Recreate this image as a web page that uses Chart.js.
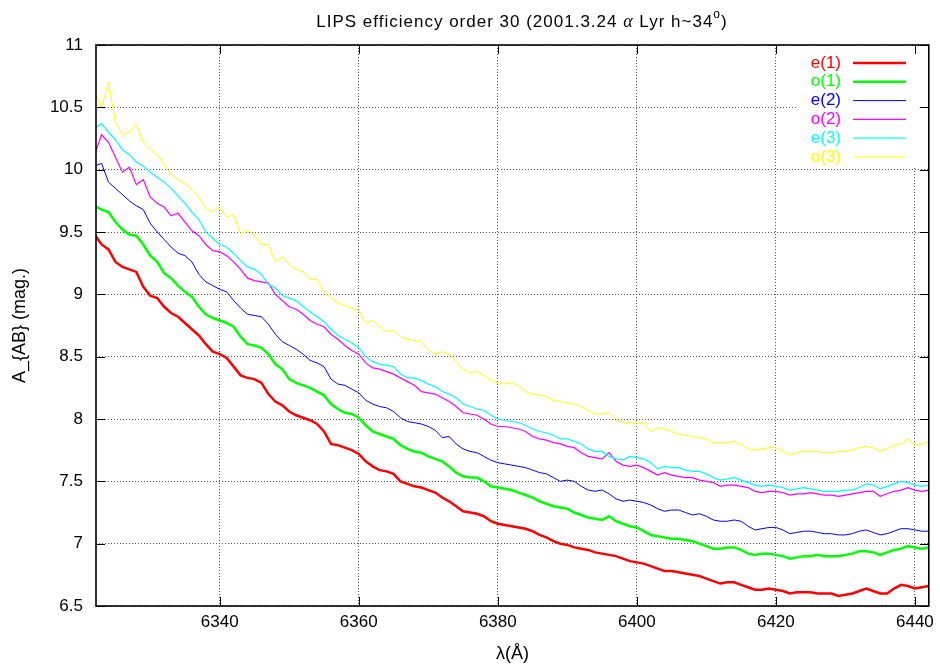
<!DOCTYPE html>
<html>
<head>
<meta charset="utf-8">
<title>LIPS efficiency order 30</title>
<script src="https://cdn.jsdelivr.net/npm/chart.js@4.4.1/dist/chart.umd.min.js"></script>
<style>
  html, body { margin: 0; padding: 0; background: #fff; }
  #wrap { width: 940px; height: 667px; }
</style>
</head>
<body>
<div id="wrap"><canvas id="myChart" width="940" height="667"></canvas></div>
<script>
// wavelength (A), one sample per angstrom
var wavelengths = [
  6322, 6323, 6324, 6325, 6326, 6327, 6328, 6329, 6330, 6331,
  6332, 6333, 6334, 6335, 6336, 6337, 6338, 6339, 6340, 6341,
  6342, 6343, 6344, 6345, 6346, 6347, 6348, 6349, 6350, 6351,
  6352, 6353, 6354, 6355, 6356, 6357, 6358, 6359, 6360, 6361,
  6362, 6363, 6364, 6365, 6366, 6367, 6368, 6369, 6370, 6371,
  6372, 6373, 6374, 6375, 6376, 6377, 6378, 6379, 6380, 6381,
  6382, 6383, 6384, 6385, 6386, 6387, 6388, 6389, 6390, 6391,
  6392, 6393, 6394, 6395, 6396, 6397, 6398, 6399, 6400, 6401,
  6402, 6403, 6404, 6405, 6406, 6407, 6408, 6409, 6410, 6411,
  6412, 6413, 6414, 6415, 6416, 6417, 6418, 6419, 6420, 6421,
  6422, 6423, 6424, 6425, 6426, 6427, 6428, 6429, 6430, 6431,
  6432, 6433, 6434, 6435, 6436, 6437, 6438, 6439, 6440, 6441,
  6442
];

var e1 = [
  9.48, 9.40, 9.36, 9.26, 9.22, 9.20, 9.18, 9.06, 8.99, 8.97,
  8.90, 8.85, 8.82, 8.77, 8.72, 8.67, 8.60, 8.54, 8.52, 8.49,
  8.42, 8.35, 8.33, 8.32, 8.29, 8.20, 8.14, 8.11, 8.06, 8.03,
  8.01, 7.99, 7.96, 7.90, 7.80, 7.79, 7.77, 7.75, 7.72, 7.66,
  7.62, 7.59, 7.58, 7.56, 7.50, 7.48, 7.46, 7.45, 7.43, 7.41,
  7.37, 7.34, 7.30, 7.26, 7.25, 7.24, 7.22, 7.18, 7.16, 7.15,
  7.14, 7.13, 7.12, 7.10, 7.07, 7.05, 7.02, 7.00, 6.99, 6.97,
  6.96, 6.95, 6.93, 6.92, 6.91, 6.90, 6.88, 6.86, 6.85, 6.84,
  6.82, 6.80, 6.78, 6.78, 6.77, 6.76, 6.75, 6.74, 6.72, 6.70,
  6.68, 6.69, 6.69, 6.67, 6.65, 6.63, 6.63, 6.64, 6.63, 6.62,
  6.60, 6.61, 6.61, 6.61, 6.60, 6.60, 6.60, 6.58, 6.59, 6.60,
  6.62, 6.64, 6.62, 6.60, 6.60, 6.64, 6.67, 6.66, 6.64, 6.65,
  6.66
];

var o1 = [
  9.71, 9.68, 9.66, 9.58, 9.52, 9.48, 9.47, 9.40, 9.31, 9.26,
  9.17, 9.13, 9.07, 9.02, 8.98, 8.90, 8.84, 8.81, 8.79, 8.77,
  8.74, 8.66, 8.60, 8.59, 8.57, 8.52, 8.44, 8.40, 8.32, 8.29,
  8.27, 8.25, 8.22, 8.19, 8.12, 8.08, 8.05, 8.04, 8.01, 7.95,
  7.90, 7.88, 7.86, 7.84, 7.79, 7.76, 7.74, 7.73, 7.70, 7.68,
  7.66, 7.62, 7.57, 7.54, 7.53, 7.53, 7.50, 7.46, 7.45, 7.44,
  7.43, 7.41, 7.39, 7.37, 7.34, 7.32, 7.30, 7.29, 7.28, 7.25,
  7.23, 7.21, 7.20, 7.19, 7.22, 7.18, 7.16, 7.14, 7.13, 7.10,
  7.07, 7.06, 7.05, 7.04, 7.04, 7.03, 7.02, 7.00, 6.98, 6.96,
  6.96, 6.97, 6.97, 6.95, 6.92, 6.91, 6.92, 6.92, 6.91, 6.90,
  6.88, 6.89, 6.90, 6.90, 6.91, 6.90, 6.90, 6.90, 6.91, 6.92,
  6.94, 6.94, 6.93, 6.91, 6.93, 6.95, 6.96, 6.98, 6.97, 6.96,
  6.97
];

var e2 = [
  10.03, 10.05, 9.90, 9.85, 9.80, 9.75, 9.71, 9.68, 9.57, 9.50,
  9.44, 9.38, 9.33, 9.31, 9.26, 9.16, 9.10, 9.07, 9.04, 9.02,
  8.95, 8.89, 8.84, 8.83, 8.82, 8.76, 8.68, 8.62, 8.59, 8.56,
  8.52, 8.47, 8.45, 8.42, 8.32, 8.28, 8.27, 8.24, 8.21, 8.15,
  8.12, 8.10, 8.09, 8.06, 8.01, 7.98, 7.97, 7.96, 7.94, 7.91,
  7.85, 7.86, 7.80, 7.76, 7.74, 7.73, 7.70, 7.67, 7.65, 7.64,
  7.63, 7.62, 7.61, 7.59, 7.57, 7.56, 7.53, 7.50, 7.51, 7.50,
  7.46, 7.43, 7.42, 7.43, 7.40, 7.36, 7.34, 7.35, 7.34, 7.33,
  7.31, 7.28, 7.26, 7.27, 7.27, 7.25, 7.23, 7.24, 7.22, 7.19,
  7.18, 7.18, 7.19, 7.18, 7.14, 7.11, 7.12, 7.13, 7.13, 7.11,
  7.08, 7.09, 7.10, 7.10, 7.09, 7.08, 7.08, 7.07, 7.07, 7.08,
  7.10, 7.11, 7.09, 7.07, 7.08, 7.10, 7.12, 7.12, 7.11, 7.10,
  7.10
];

var o2 = [
  10.12, 10.28, 10.22, 10.10, 9.98, 10.02, 9.88, 9.92, 9.78, 9.73,
  9.70, 9.63, 9.65, 9.58, 9.51, 9.47, 9.40, 9.35, 9.34, 9.31,
  9.26, 9.20, 9.13, 9.11, 9.10, 9.09, 9.00, 8.95, 8.90, 8.88,
  8.84, 8.79, 8.76, 8.74, 8.68, 8.64, 8.59, 8.55, 8.52, 8.45,
  8.41, 8.40, 8.38, 8.36, 8.33, 8.30, 8.27, 8.22, 8.21, 8.20,
  8.17, 8.14, 8.10, 8.05, 8.04, 8.03, 8.00, 7.96, 7.94, 7.94,
  7.93, 7.92, 7.90, 7.86, 7.84, 7.83, 7.81, 7.80, 7.78, 7.77,
  7.73, 7.70, 7.69, 7.68, 7.73, 7.66, 7.63, 7.62, 7.63, 7.61,
  7.58, 7.55, 7.57, 7.55, 7.54, 7.53, 7.53, 7.51, 7.50, 7.49,
  7.46, 7.47, 7.47, 7.46, 7.45, 7.42, 7.41, 7.42, 7.42, 7.41,
  7.39, 7.40, 7.40, 7.41, 7.40, 7.39, 7.39, 7.38, 7.39, 7.40,
  7.41, 7.42, 7.42, 7.38, 7.40, 7.42, 7.43, 7.45, 7.43, 7.42,
  7.43
];

var e3 = [
  10.33, 10.37, 10.30, 10.24, 10.16, 10.12, 10.06, 10.03, 9.98, 9.94,
  9.90, 9.85, 9.79, 9.73, 9.66, 9.60, 9.50, 9.45, 9.40, 9.38,
  9.33, 9.27, 9.22, 9.20, 9.16, 9.08, 9.05, 8.99, 8.97, 8.95,
  8.90, 8.86, 8.82, 8.78, 8.72, 8.67, 8.64, 8.61, 8.57, 8.50,
  8.46, 8.44, 8.43, 8.42, 8.36, 8.33, 8.33, 8.31, 8.28, 8.26,
  8.22, 8.20, 8.17, 8.12, 8.10, 8.08, 8.07, 8.03, 8.00, 7.99,
  7.98, 7.97, 7.95, 7.92, 7.90, 7.89, 7.87, 7.84, 7.84, 7.82,
  7.80, 7.76, 7.74, 7.74, 7.70, 7.68, 7.67, 7.70, 7.69, 7.68,
  7.65, 7.60, 7.62, 7.61, 7.61, 7.59, 7.58, 7.58, 7.56, 7.53,
  7.51, 7.52, 7.53, 7.51, 7.49, 7.47, 7.46, 7.47, 7.46, 7.45,
  7.43, 7.44, 7.45, 7.44, 7.43, 7.42, 7.42, 7.42, 7.43, 7.43,
  7.45, 7.48, 7.47, 7.44, 7.46, 7.48, 7.50, 7.49, 7.47, 7.46,
  7.47
];

var o3 = [
  10.62, 10.50, 10.70, 10.38, 10.28, 10.30, 10.36, 10.22, 10.16, 10.12,
  10.04, 9.96, 9.92, 9.89, 9.84, 9.78, 9.69, 9.66, 9.70, 9.62,
  9.64, 9.48, 9.52, 9.47, 9.40, 9.40, 9.26, 9.30, 9.24, 9.20,
  9.18, 9.12, 9.12, 9.02, 8.97, 8.93, 8.91, 8.89, 8.87, 8.77,
  8.79, 8.74, 8.70, 8.71, 8.66, 8.64, 8.63, 8.62, 8.55, 8.52,
  8.54, 8.52, 8.46, 8.40, 8.37, 8.38, 8.35, 8.31, 8.29, 8.28,
  8.29, 8.27, 8.22, 8.20, 8.19, 8.18, 8.15, 8.14, 8.13, 8.12,
  8.10, 8.07, 8.04, 8.04, 8.05, 8.00, 7.97, 7.97, 7.96, 7.97,
  7.90, 7.93, 7.92, 7.90, 7.88, 7.87, 7.86, 7.85, 7.84, 7.81,
  7.81, 7.81, 7.82, 7.80, 7.76, 7.75, 7.76, 7.77, 7.77, 7.74,
  7.71, 7.73, 7.74, 7.74, 7.74, 7.73, 7.73, 7.74, 7.74, 7.75,
  7.77, 7.78, 7.77, 7.74, 7.76, 7.79, 7.80, 7.84, 7.79, 7.80,
  7.82
];

var seriesNames = ["e(1)", "o(1)", "e(2)", "o(2)", "e(3)", "o(3)"];
var seriesColors = ["#ff0000", "#00ff00", "#0000ff", "#ff00ff", "#00ffff", "#ffff00"];
var seriesWidths = [2.5, 2.5, 1, 1.2, 1.2, 1];
var xTicks = [6340, 6360, 6380, 6400, 6420, 6440];
var yTicks = [6.5, 7, 7.5, 8, 8.5, 9, 9.5, 10, 10.5, 11];

var FONT = '"Liberation Sans", Arial, Helvetica, sans-serif';

function toPoints(ys) {
  var pts = [];
  for (var i = 0; i < ys.length; i++) {
    pts.push({ x: wavelengths[i], y: ys[i] });
  }
  return pts;
}

var allSeries = [e1, o1, e2, o2, e3, o3];
var datasets = [];
for (var i = 0; i < allSeries.length; i++) {
  datasets.push({
    label: seriesNames[i],
    data: toPoints(allSeries[i]),
    borderColor: seriesColors[i],
    backgroundColor: seriesColors[i],
    borderWidth: seriesWidths[i],
    pointRadius: 0,
    tension: 0,
    fill: false,
    order: allSeries.length - i, // gnuplot draws e(1) first, o(3) last
  });
}

// frame, inward tick marks, key box and the title
var gnuplotLook = {
  id: "gnuplotLook",
  afterDatasetsDraw: function (chart) {
    var ctx = chart.ctx;
    var a = chart.chartArea;
    var xs = chart.scales.x;
    var ys = chart.scales.y;
    ctx.save();

    // key (opaque box hides grid behind it)
    ctx.fillStyle = "#fff";
    ctx.fillRect(797, a.top + 1, 124, 121);
    ctx.font = "17px " + FONT;
    ctx.textAlign = "right";
    ctx.textBaseline = "middle";
    for (var i = 0; i < chart.data.datasets.length; i++) {
      var ds = chart.data.datasets[i];
      var ry = 63 + i * 18.8;
      ctx.fillStyle = ds.borderColor;
      ctx.fillText(ds.label, 841, ry);
      ctx.strokeStyle = ds.borderColor;
      ctx.lineWidth = ds.borderWidth;
      ctx.beginPath();
      ctx.moveTo(853, ry);
      ctx.lineTo(906, ry);
      ctx.stroke();
    }

    // inward ticks
    ctx.strokeStyle = "#000";
    ctx.lineWidth = 1;
    ctx.beginPath();
    yTicks.forEach(function (v) {
      var py = Math.round(ys.getPixelForValue(v)) + 0.5;
      ctx.moveTo(a.left, py); ctx.lineTo(a.left + 9, py);
      ctx.moveTo(a.right, py); ctx.lineTo(a.right - 9, py);
    });
    xTicks.forEach(function (v) {
      var px = Math.round(xs.getPixelForValue(v)) + 0.5;
      ctx.moveTo(px, a.bottom); ctx.lineTo(px, a.bottom - 9);
      ctx.moveTo(px, a.top); ctx.lineTo(px, a.top + 9);
    });
    ctx.stroke();

    // border
    ctx.lineWidth = 1.6;
    ctx.strokeRect(a.left, a.top, a.right - a.left, a.bottom - a.top);

    // title with greek alpha and superscript degree
    ctx.letterSpacing = "1px";
    var parts = [
      { t: "LIPS efficiency order 30 (2001.3.24 ", f: "17px " + FONT, dy: 0 },
      { t: "\u03b1", f: "italic 18px 'Liberation Serif', 'DejaVu Serif', serif", dy: 0 },
      { t: " Lyr h~34", f: "17px " + FONT, dy: 0 },
      { t: "o", f: "12px " + FONT, dy: -8.5 },
      { t: ")", f: "17px " + FONT, dy: 0 },
    ];
    var total = 0;
    parts.forEach(function (p) {
      ctx.font = p.f;
      p.w = ctx.measureText(p.t).width;
      total += p.w;
    });
    var x = 522 - total / 2;
    ctx.fillStyle = "#000";
    ctx.textAlign = "left";
    ctx.textBaseline = "alphabetic";
    parts.forEach(function (p) {
      ctx.font = p.f;
      ctx.fillText(p.t, x, 26.5 + p.dy);
      x += p.w;
    });
    ctx.restore();
  },
};

var ctx = document.getElementById("myChart").getContext("2d");
var chart = new Chart(ctx, {
  type: "line",
  data: { datasets: datasets },
  options: {
    responsive: false,
    animation: false,
    events: [],
    layout: { padding: { top: 45, right: 11, left: 0, bottom: 0 } },
    plugins: {
      legend: { display: false },
      title: { display: false },
      tooltip: { enabled: false },
    },
    scales: {
      x: {
        type: "linear",
        min: 6322.2,
        max: 6442,
        afterFit: function (s) { s.height = 61; },
        afterBuildTicks: function (s) {
          s.ticks = xTicks.map(function (v) { return { value: v }; });
        },
        grid: { color: "#555", lineWidth: 1, drawTicks: false },
        border: { display: false, dash: [1, 2] },
        ticks: {
          padding: 6,
          color: "#000",
          maxRotation: 0,
          font: { family: FONT, size: 17 },
          callback: function (v) { return String(v); },
        },
        title: {
          display: true,
          text: "\u03bb(\u00c5)",
          color: "#000",
          font: { family: FONT, size: 18 },
          padding: { top: 0, bottom: 2 },
        },
      },
      y: {
        type: "linear",
        min: 6.5,
        max: 11,
        afterFit: function (s) { s.width = 96; },
        afterBuildTicks: function (s) {
          s.ticks = yTicks.map(function (v) { return { value: v }; });
        },
        grid: { color: "#555", lineWidth: 1, drawTicks: false },
        border: { display: false, dash: [1, 2] },
        ticks: {
          padding: 13,
          color: "#000",
          font: { family: FONT, size: 17 },
          callback: function (v) { return String(v); },
        },
        title: {
          display: true,
          text: "A_{AB} (mag.)",
          color: "#000",
          font: { family: FONT, size: 18 },
          padding: { top: 9, bottom: 0 },
        },
      },
    },
  },
  plugins: [gnuplotLook],
});
</script>
</body>
</html>
